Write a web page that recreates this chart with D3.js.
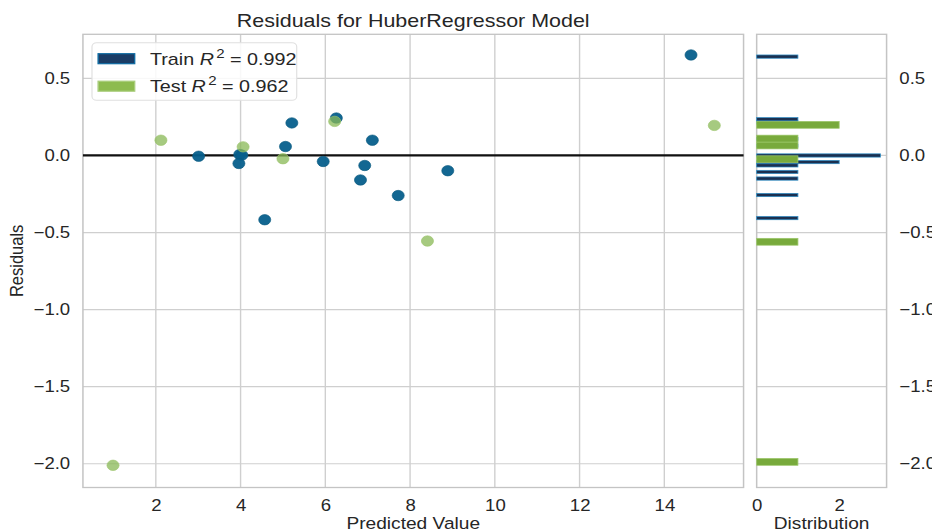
<!DOCTYPE html>
<html>
<head>
<meta charset="utf-8">
<script src="https://cdn.jsdelivr.net/npm/d3@7"></script>
<style>
html, body { margin: 0; padding: 0; background: #fff; }
svg { display: block; }
text { font-family: "Liberation Sans", Arial, sans-serif; fill: #262626; }
</style>
</head>
<body>
<div id="chart"></div>
<script>
// residuals
var trainPred  = [3.01, 3.98, 4.03, 3.96, 4.57, 5.06, 5.21, 5.95, 6.26, 6.83, 6.93, 7.11, 7.72, 8.89, 14.63];
var trainResid = [-0.005, 0.006, 0.002, -0.052, -0.417, 0.058, 0.211, -0.039, 0.243, -0.159, -0.065, 0.099, -0.260, -0.099, 0.652];
var testPred   = [0.99, 2.12, 4.06, 5.00, 6.22, 8.41, 15.18];
var testResid  = [-2.01, 0.099, 0.056, -0.021, 0.221, -0.555, 0.195];

var xTicks = [2, 4, 6, 8, 10, 12, 14];
var yTicks = [0.5, 0.0, -0.5, -1.0, -1.5, -2.0];
var histTicks = [0, 2];
var seriesNames = ["Train", "Test"];
var seriesR2 = ["0.992", "0.962"];

var canvas_width = 932, canvas_height = 532;
var stretch = 1.16;  // the picture is a bit wider than tall
var vbW = canvas_width / stretch;

var svg = d3.select("#chart")
    .append("svg")
    .attr("width", canvas_width)
    .attr("height", canvas_height)
    .attr("viewBox", "0 0 " + vbW + " " + canvas_height)
    .attr("preserveAspectRatio", "none");

var main = {left: 71.5, right: 641, top: 34.3, bottom: 487.5};
var hist = {left: 652.3, right: 764.3};

var x = d3.scaleLinear().domain([0.28, 15.87]).range([main.left, main.right]);
var y = d3.scaleLinear().domain([-2.154, 0.786]).range([main.bottom, main.top]);
var hx = d3.scaleLinear().domain([0, 3.15]).range([hist.left, hist.right]);

var gridColor = "#cfcfcf";
var fmt = d3.format(".1f");

// main grid
svg.append("g").selectAll("line")
    .data(xTicks).enter().append("line")
    .attr("x1", function(d) { return x(d); }).attr("x2", function(d) { return x(d); })
    .attr("y1", main.top).attr("y2", main.bottom)
    .attr("stroke", gridColor).attr("stroke-width", 1.2);

svg.append("g").selectAll("line")
    .data(yTicks).enter().append("line")
    .attr("x1", main.left).attr("x2", main.right)
    .attr("y1", function(d) { return y(d); }).attr("y2", function(d) { return y(d); })
    .attr("stroke", gridColor).attr("stroke-width", 1.2);

// hist grid (horizontal only)
svg.append("g").selectAll("line")
    .data(yTicks).enter().append("line")
    .attr("x1", hist.left).attr("x2", hist.right)
    .attr("y1", function(d) { return y(d); }).attr("y2", function(d) { return y(d); })
    .attr("stroke", gridColor).attr("stroke-width", 1.2);

// frames
svg.append("rect")
    .attr("x", main.left).attr("y", main.top)
    .attr("width", main.right - main.left).attr("height", main.bottom - main.top)
    .attr("fill", "none").attr("stroke", "#c4c4c4").attr("stroke-width", 1.3);
svg.append("rect")
    .attr("x", hist.left).attr("y", main.top)
    .attr("width", hist.right - hist.left).attr("height", main.bottom - main.top)
    .attr("fill", "none").attr("stroke", "#c4c4c4").attr("stroke-width", 1.3);

// zero line
svg.append("line")
    .attr("x1", main.left).attr("x2", main.right)
    .attr("y1", y(0)).attr("y2", y(0))
    .attr("stroke", "#111").attr("stroke-width", 2.2);

// axes
var xAxis = svg.append("g")
    .attr("transform", "translate(0," + main.bottom + ")")
    .call(d3.axisBottom(x).tickValues(xTicks).tickSize(0).tickPadding(12));
var yAxis = svg.append("g")
    .attr("transform", "translate(" + main.left + ",0)")
    .call(d3.axisLeft(y).tickValues(yTicks).tickFormat(fmt).tickSize(0).tickPadding(11));
var hxAxis = svg.append("g")
    .attr("transform", "translate(0," + main.bottom + ")")
    .call(d3.axisBottom(hx).tickValues(histTicks).tickFormat(d3.format("d")).tickSize(0).tickPadding(12));
var hyAxis = svg.append("g")
    .attr("transform", "translate(" + hist.right + ",0)")
    .call(d3.axisRight(y).tickValues(yTicks).tickFormat(fmt).tickSize(0).tickPadding(11));

[xAxis, yAxis, hxAxis, hyAxis].forEach(function(a) {
    a.select(".domain").remove();
    a.selectAll("text")
        .style("font-family", '"Liberation Sans", Arial, sans-serif')
        .style("font-size", "16px")
        .attr("fill", "#262626");
});

// histograms, 50 bins each like the original
function bins50(vals) {
    var ext = d3.extent(vals), w = (ext[1] - ext[0]) / 50;
    var th = d3.range(1, 50).map(function(i) { return ext[0] + i * w; });
    return d3.bin().domain(ext).thresholds(th)(vals)
        .filter(function(b) { return b.length > 0; });
}

svg.append("g").selectAll("rect")
    .data(bins50(trainResid)).enter().append("rect")
    .attr("x", hx(0))
    .attr("y", function(d) { return y(d.x1); })
    .attr("width", function(d) { return hx(d.length) - hx(0); })
    .attr("height", function(d) { return y(d.x0) - y(d.x1); })
    .attr("fill", "#1b3050")
    .attr("stroke", "#2f8fc8").attr("stroke-width", 0.7);

svg.append("g").selectAll("rect")
    .data(bins50(testResid)).enter().append("rect")
    .attr("x", hx(0))
    .attr("y", function(d) { return y(d.x1); })
    .attr("width", function(d) { return hx(d.length) - hx(0); })
    .attr("height", function(d) { return y(d.x0) - y(d.x1); })
    .attr("fill", "#78aa3c")
    .attr("stroke", "#9cc76a").attr("stroke-width", 0.7);

// points
svg.append("g").selectAll("circle")
    .data(d3.range(trainPred.length)).enter().append("circle")
    .attr("cx", function(i) { return x(trainPred[i]); })
    .attr("cy", function(i) { return y(trainResid[i]); })
    .attr("r", 5.2)
    .attr("fill", "#065f8c")
    .attr("fill-opacity", 0.95)
    .attr("stroke", "#0b5a80").attr("stroke-width", 0.6);

svg.append("g").selectAll("circle")
    .data(d3.range(testPred.length)).enter().append("circle")
    .attr("cx", function(i) { return x(testPred[i]); })
    .attr("cy", function(i) { return y(testResid[i]); })
    .attr("r", 5.2)
    .attr("fill", "#88b855")
    .attr("fill-opacity", 0.75)
    .attr("stroke", "#9bc46c").attr("stroke-width", 0.6);

// legend
var legend = svg.append("g");
legend.append("rect")
    .attr("x", 79.3).attr("y", 42.7).attr("width", 176.5).attr("height", 57.5)
    .attr("rx", 4).attr("fill", "#fff").attr("fill-opacity", 0.85)
    .attr("stroke", "#e0e0e0").attr("stroke-width", 1);

var patchFill = ["#1b3d66", "#8dbb4f"];
var patchStroke = ["#0f6ca3", "#a9cd7c"];
seriesNames.forEach(function(name, i) {
    var cy = 58.7 + i * 27.5;
    legend.append("rect")
        .attr("x", 84.6).attr("y", cy - 5).attr("width", 31.5).attr("height", 10)
        .attr("fill", patchFill[i]).attr("stroke", patchStroke[i]).attr("stroke-width", 1.2);
    var t = legend.append("text")
        .attr("x", 129.3).attr("y", cy + 6)
        .style("font-size", "17px");
    t.append("tspan").text(name + " ");
    t.append("tspan").style("font-style", "italic").text("R");
    t.append("tspan").attr("dx", 2).attr("dy", -7).style("font-size", "13px").text("2");
    t.append("tspan").attr("dy", 7).text(" = " + seriesR2[i]);
});

// titles
svg.append("text")
    .attr("x", (main.left + main.right) / 2).attr("y", 26.7)
    .attr("text-anchor", "middle")
    .style("font-size", "18.5px")
    .text("Residuals for HuberRegressor Model");

svg.append("text")
    .attr("x", (main.left + main.right) / 2).attr("y", 529.5)
    .attr("text-anchor", "middle")
    .style("font-size", "16.5px")
    .text("Predicted Value");

svg.append("text")
    .attr("x", (hist.left + hist.right) / 2).attr("y", 529.5)
    .attr("text-anchor", "middle")
    .style("font-size", "16.5px")
    .text("Distribution");

svg.append("text")
    .attr("transform", "translate(20," + ((main.top + main.bottom) / 2) + ") rotate(-90)")
    .attr("text-anchor", "middle")
    .style("font-size", "16.5px")
    .text("Residuals");
</script>
</body>
</html>
